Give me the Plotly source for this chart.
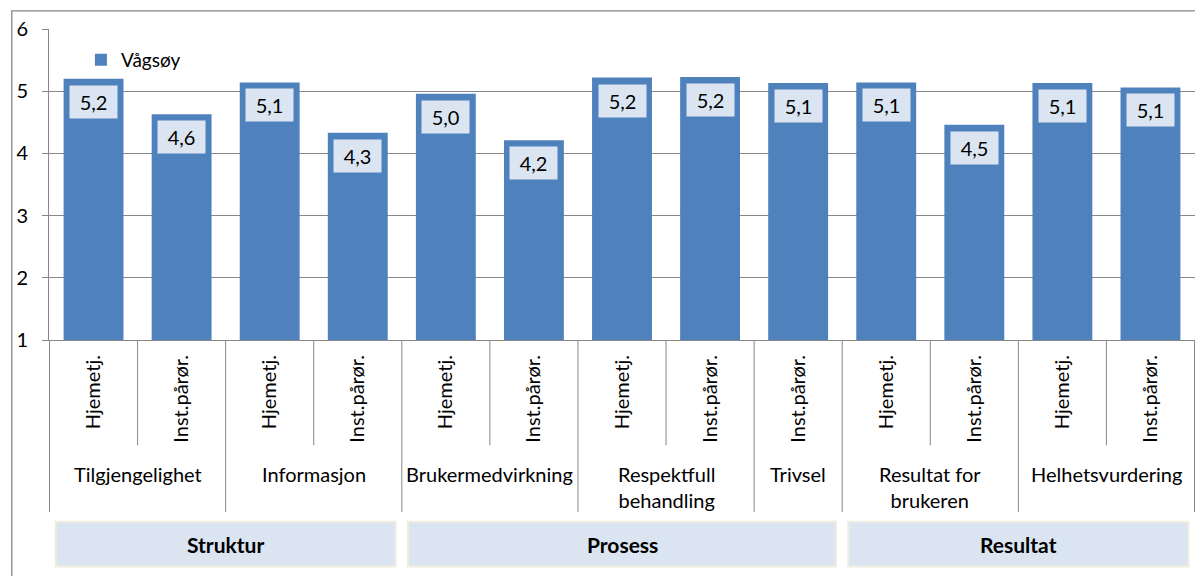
import plotly.graph_objects as go

# ---- data ----
series_name = "Vågsøy"
groups = ["Tilgjengelighet", "Informasjon", "Brukermedvirkning",
          "Respektfull<br>behandling", "Trivsel", "Resultat for<br>brukeren",
          "Helhetsvurdering"]
sub_labels = ["Hjemetj.", "Inst.pårør.", "Hjemetj.", "Inst.pårør.",
              "Hjemetj.", "Inst.pårør.", "Hjemetj.", "Inst.pårør.",
              "Inst.pårør.", "Hjemetj.", "Inst.pårør.", "Hjemetj.", "Inst.pårør."]
bar_group = [0, 0, 1, 1, 2, 2, 3, 3, 4, 5, 5, 6, 6]
values = [5.20, 4.63, 5.14, 4.33, 4.96, 4.21, 5.22, 5.23, 5.13, 5.14, 4.46, 5.13, 5.06]
sections = ["Struktur", "Prosess", "Resultat"]
section_groups = [[0, 1], [2, 3, 4], [5, 6]]
y_ticks = [1, 2, 3, 4, 5, 6]

# ---- style ----
FONT = "Lato, 'Open Sans', sans-serif"
BAR = "#4f81bd"
GRID = "#878787"
BOX = "#dbe5f1"
OFF = 8  # page body margin
W, H = 1203 - OFF, 576 - OFF
# screen-pixel geometry of the plot area
X_LEFT, X_RIGHT, Y_TOP, Y_BOT = 46, 1195, 27, 340
ML = X_LEFT - OFF
MT = Y_TOP - OFF
MR = W - (X_RIGHT - OFF)
MB = H - (Y_BOT - OFF)
PW, PH = X_RIGHT - X_LEFT, Y_BOT - Y_TOP


def py(pix):  # screen pixel row -> paper y
    return (Y_BOT - pix) / PH


def px(pix):  # screen pixel col -> paper x
    return (pix - X_LEFT) / PW


keys = [f"{groups[g]} | {s} | {i}" for i, (g, s) in enumerate(zip(bar_group, sub_labels))]
labels = [f"{v:.1f}".replace(".", ",") for v in values]

fig = go.Figure()
fig.add_trace(go.Bar(x=keys, y=values, name=series_name, marker_color=BAR,
                     marker_line_width=0, width=0.68, showlegend=True))

shapes = []
annotations = []

# data labels
for k, v, t in zip(keys, values, labels):
    annotations.append(dict(x=k, y=v, xref="x", yref="y", text=t, showarrow=False,
                            yanchor="top", yshift=-6, bgcolor=BOX, width=45, height=30,
                            font=dict(family=FONT, size=20, color="black")))

# group spans
spans = []
for g in range(len(groups)):
    idx = [i for i, b in enumerate(bar_group) if b == g]
    spans.append((min(idx), max(idx)))

n = len(values)
group_bounds = set()
for a, b in spans:
    group_bounds.add(a - 0.5)
    group_bounds.add(b + 0.5)
for i in range(n + 1):
    xb = i - 0.5
    y1 = py(513) if xb in group_bounds else py(446)
    shapes.append(dict(type="line", xref="x", yref="paper", x0=xb, x1=xb, y0=0, y1=y1,
                       line=dict(color=GRID, width=1)))

for g, (a, b) in enumerate(spans):
    annotations.append(dict(x=(a + b) / 2, y=py(461), xref="x", yref="paper",
                            text=groups[g], showarrow=False, yanchor="top",
                            font=dict(family=FONT, size=20, color="black")))

for s, gl in enumerate(section_groups):
    a = spans[gl[0]][0]
    b = spans[gl[-1]][1]
    shapes.append(dict(type="rect", xref="x", yref="paper", x0=a - 0.5 + 0.07, x1=b + 0.5 - 0.07,
                       y0=py(568), y1=py(523), fillcolor=BOX, line=dict(color="#efeddf", width=2),
                       layer="below"))
    annotations.append(dict(x=(a + b) / 2, y=py(546), xref="x", yref="paper",
                            text=f"<b>{sections[s]}</b>", showarrow=False, yanchor="middle",
                            font=dict(family=FONT, size=21, color="black")))

# outer border (top and left visible)
shapes.append(dict(type="rect", xref="paper", yref="paper", x0=px(OFF + 0.7), x1=px(1220),
                   y0=py(600), y1=py(OFF + 0.7), line=dict(color="#868686", width=1.3),
                   fillcolor="rgba(0,0,0,0)"))

fig.update_layout(
    width=W, height=H,
    margin=dict(l=ML, r=MR, t=MT, b=MB),
    paper_bgcolor="white", plot_bgcolor="white",
    font=dict(family=FONT, size=19, color="black"),
    bargap=0.32,
    shapes=shapes, annotations=annotations,
    legend=dict(x=px(78), y=py(58), xanchor="left", yanchor="middle",
                bgcolor="rgba(0,0,0,0)", font=dict(family=FONT, size=19, color="black")),
    xaxis=dict(type="category", tickvals=keys, ticktext=sub_labels, tickangle=-90,
               showline=True, linecolor=GRID, linewidth=1, ticks="", showgrid=False,
               ticklabelstandoff=6, tickfont=dict(family=FONT, size=20, color="black")),
    yaxis=dict(range=[1, 6], tickvals=y_ticks, showgrid=True, gridcolor=GRID, gridwidth=1,
               showline=True, linecolor=GRID, linewidth=1, ticks="outside", ticklen=6,
               tickcolor=GRID, ticklabelstandoff=10, zeroline=False,
               tickfont=dict(family=FONT, size=20, color="black")),
)

fig.write_html("out.html")
